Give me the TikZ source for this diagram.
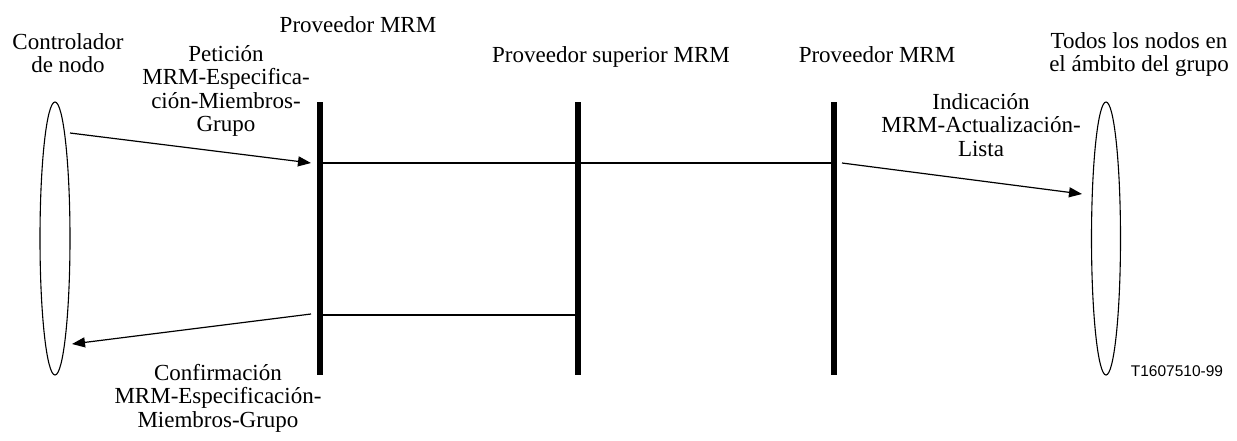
\documentclass[tikz,border=0pt]{standalone}
\usepackage{fontspec}
\setmainfont{Liberation Serif}
\newfontfamily\labelsans{Liberation Sans}
\usetikzlibrary{arrows.meta,shapes.geometric,calc}
\newcommand\mlines[1]{\begin{tabular}[t]{@{}c@{}}#1\end{tabular}}
\tikzset{
  txt/.style={inner sep=0pt,anchor=base,font=\fontsize{23}{23.5}\selectfont},
  lifeline/.style={fill=black,draw=none,minimum width=6pt,minimum height=273pt,inner sep=0pt,anchor=north},
  group/.style={ellipse,draw,line width=1.1pt,minimum width=30pt,minimum height=273pt,inner sep=0pt},
  link/.style={line width=1.7pt},
  msg/.style={line width=1.2pt,-{Triangle[length=13pt,width=10pt]}}
}
\begin{document}
\begin{tikzpicture}[x=1pt,y=-1pt]
\useasboundingbox (0,0) rectangle (1237,440);
% entities
\node[group] (ctl) at (55,238.5) {};
\node[group,minimum width=29pt] (all) at (1106,238.5) {};
\node[lifeline] (p1) at (320,102) {};
\node[lifeline] (p2) at (578,102) {};
\node[lifeline] (p3) at (834,102) {};
% headers
\node[txt] (tctl) at (68,49) {\mlines{Controlador\\de nodo}};
\node[txt] (tp1) at (358,32) {Proveedor MRM};
\node[txt] (tp2) at (611,62) {Proveedor superior MRM};
\node[txt] (tp3) at (877,62) {Proveedor MRM};
\node[txt] (tall) at (1139,48) {\mlines{Todos los nodos en\\el ámbito del grupo}};
% links between providers
\coordinate (h1) at (0,163);
\coordinate (h2) at (0,315);
\draw[link] (p1.east |- h1) -- (p3.west |- h1);
\draw[link] (p1.east |- h2) -- (p2.west |- h2);
% messages
\coordinate (m1s) at (70,133);
\coordinate (m1e) at (311,163);
\coordinate (m2s) at (311,314);
\coordinate (m2e) at (72,344);
\coordinate (m3s) at (842,163);
\coordinate (m3e) at (1082,194);
\draw[msg] (m1s) -- (m1e);
\draw[msg] (m2s) -- (m2e);
\draw[msg] (m3s) -- (m3e);
\node[txt] (l1) at (226,61) {\mlines{Petición\\MRM-Especifica-\\ción-Miembros-\\Grupo}};
\node[txt] (l2) at (218,380) {\mlines{Confirmación\\MRM-Especificación-\\Miembros-Grupo}};
\node[txt] (l3) at (981,109) {\mlines{Indicación\\MRM-Actualización-\\Lista}};
\node[inner sep=0pt,anchor=base,font=\labelsans\fontsize{15.5}{16}\selectfont] (ref) at (1177,376) {T1607510-99};
\end{tikzpicture}
\end{document}
